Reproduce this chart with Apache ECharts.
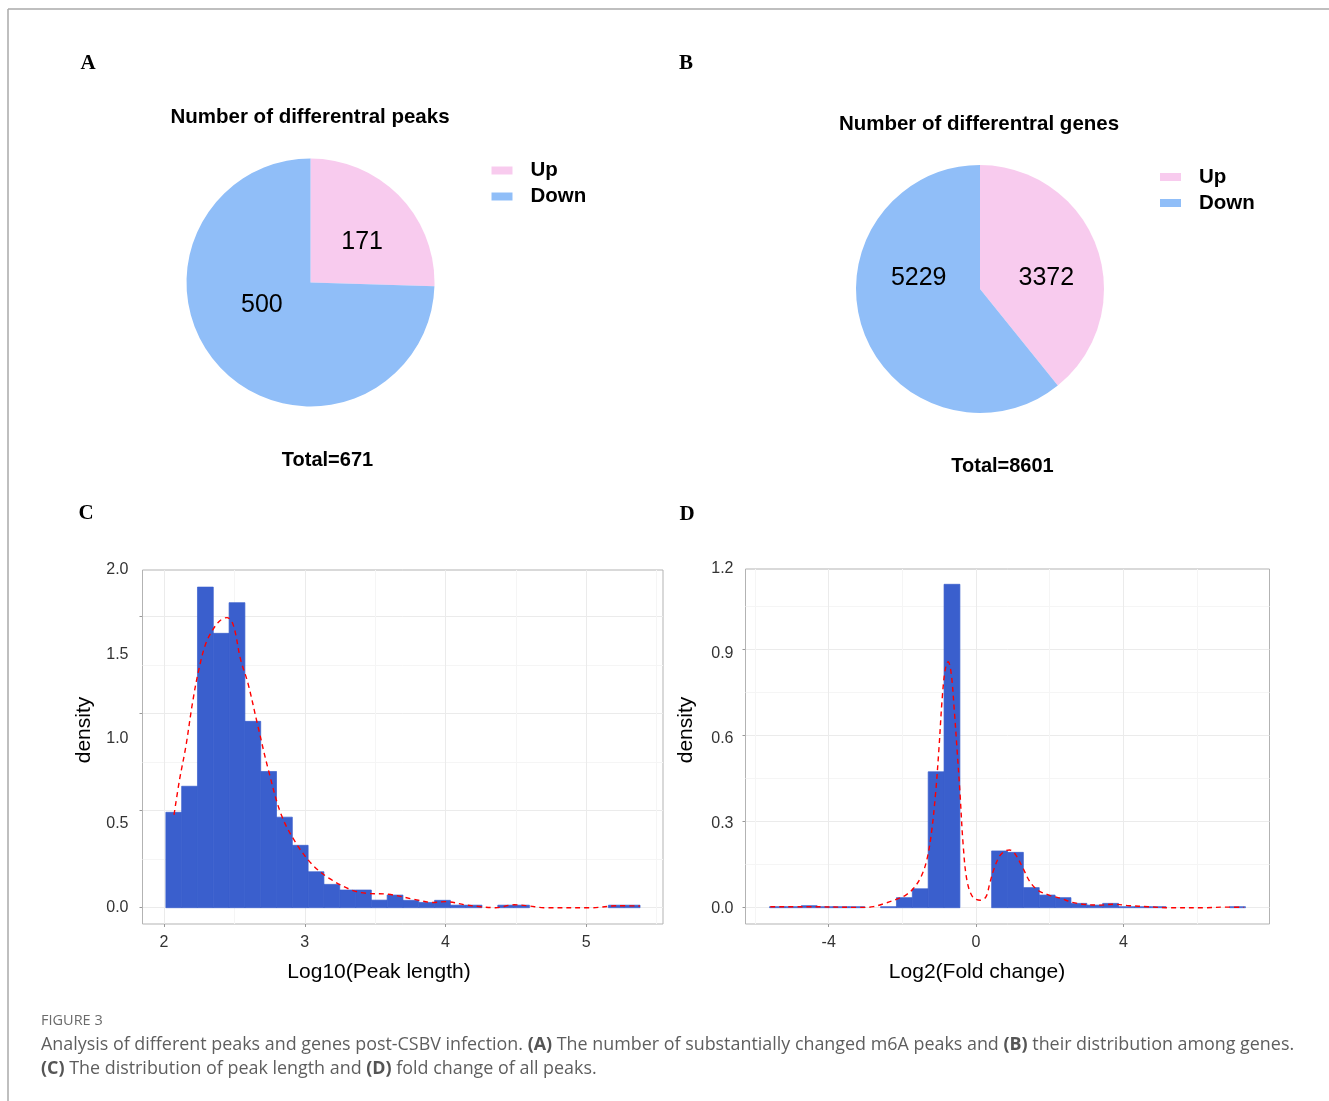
<!DOCTYPE html>
<html><head><meta charset="utf-8">
<script src="https://cdn.jsdelivr.net/npm/echarts@6/dist/echarts.min.js"></script>
<style>html,body{margin:0;padding:0;background:#fff}#c{width:1329px;height:1101px}</style>
</head><body><div id="c"></div>
<script>
// ================= DATA =================
const pieCategories = ['Up', 'Down'];
const peakCounts = [171, 500];
const geneCounts = [3372, 5229];

// C: histogram of log10(peak length), 30 bins (density)
const peakLenBinStart = 2.013;
const peakLenBinWidth = 0.1123;
const peakLenDensity = [0.491, 0.625, 1.650, 1.412, 1.570, 0.959, 0.701, 0.466, 0.321, 0.185,
  0.120, 0.091, 0.091, 0.039, 0.065, 0.038, 0.027, 0.038, 0.013, 0.013,
  0, 0.013, 0.013, 0, 0, 0, 0, 0, 0.013, 0.013];
const peakLenCurveX = [2.071, 2.110, 2.155, 2.202, 2.242, 2.294, 2.347, 2.399, 2.447, 2.491,
  2.544, 2.596, 2.662, 2.741, 2.833, 2.938, 3.056, 3.174, 3.332, 3.437, 3.594, 3.778, 3.910,
  4.002, 4.146, 4.251, 4.356, 4.487, 4.593, 4.698, 5.039, 5.223, 5.381];
const peakLenCurveY = [0.478, 0.658, 0.830, 1.053, 1.208, 1.354, 1.431, 1.478, 1.493, 1.457,
  1.277, 1.156, 0.950, 0.710, 0.478, 0.332, 0.220, 0.151, 0.091, 0.074, 0.069, 0.043, 0.027,
  0.031, 0.014, 0.005, 0.000, 0.015, 0.009, 0.000, 0.000, 0.010, 0.009];

// D: histogram of log2(fold change), 30 bins (density)
const foldBinStart = -5.606;
const foldBinWidth = 0.4307;
const foldDensity = [0.0035, 0.0035, 0.007, 0.0035, 0.0035, 0.0035, 0, 0.0035, 0.035, 0.066,
  0.474, 1.128, 0, 0, 0.198, 0.193, 0.070, 0.044, 0.035, 0.015,
  0.009, 0.015, 0.0035, 0.0035, 0.0035, 0, 0, 0, 0, 0.0035];
const foldCurveX = [-5.585, -4.653, -3.10, -2.79, -2.477, -2.166, -1.907, -1.70, -1.492, -1.337,
  -1.212, -1.098, -1.005, -0.922, -0.839, -0.756, -0.674, -0.591, -0.508, -0.435, -0.352,
  -0.249, -0.093, 0.114, 0.269, 0.373, 0.477, 0.632, 0.788, 0.912, 1.047, 1.254, 1.461,
  1.668, 1.979, 2.290, 2.601, 2.912, 3.326, 3.741, 4.155, 4.674, 5.19, 6.228, 6.746, 7.264];
const foldCurveY = [0.0035, 0.0035, 0.001, 0.0035, 0.015, 0.029, 0.044, 0.067, 0.108, 0.166,
  0.259, 0.399, 0.558, 0.724, 0.829, 0.858, 0.817, 0.690, 0.538, 0.399, 0.224,
  0.097, 0.038, 0.026, 0.038, 0.085, 0.131, 0.178, 0.198, 0.201, 0.190, 0.143, 0.091,
  0.062, 0.044, 0.033, 0.019, 0.012, 0.009, 0.012, 0.007, 0.0035, 0, 0, 0.002, 0.001];

// tick values / labels
const cXTicks = [2, 3, 4, 5];
const cXMinor = [2.5, 3.5, 4.5, 5.5];
const cYTicks = [0, 0.5, 1, 1.5];
const cYMinor = [0.25, 0.75, 1.25];
const cYLabels = [0, 0.5, 1.0, 1.5, 2.0];
const dXTicks = [-4, 0, 4];
const dXMinor = [-6, -2, 2, 6];
const dYTicks = [0, 0.3, 0.6, 0.9];
const dYMinor = [0.15, 0.45, 0.75, 1.05];
const dYLabels = [0, 0.3, 0.6, 0.9, 1.2];

// ================= CHART =================
const SANS = '"Liberation Sans", Arial, sans-serif';
const SERIF = '"Liberation Serif", "Times New Roman", serif';
const CAP = '"Open Sans", sans-serif';
const PINK = '#F8CBEE', BLUE = '#90BEF8', BAR = '#3A5FCD';

const chart = echarts.init(document.getElementById('c'), null, {renderer: 'canvas'});

function baseAxis(o) {
  return Object.assign({
    type: 'value', axisLine: {show: false, onZero: false}, axisTick: {show: false},
    axisLabel: {show: false}, splitLine: {show: false}
  }, o);
}
function majorX(grid, min, max, ticks) {
  return baseAxis({gridIndex: grid, min, max, position: 'bottom',
    axisTick: {show: true, length: 3, lineStyle: {color: '#999'}, customValues: ticks},
    axisLabel: {show: true, customValues: ticks, fontSize: 16, color: '#333', margin: 11, fontFamily: SANS},
    splitLine: {show: true, lineStyle: {color: '#ebebeb', width: 1}}});
}
function minorX(grid, min, max, ticks) {
  return baseAxis({gridIndex: grid, min, max, position: 'bottom',
    axisTick: {show: false, customValues: ticks},
    axisLabel: {show: false, customValues: ticks},
    splitLine: {show: true, lineStyle: {color: '#f5f5f5', width: 1}}});
}
function majorY(grid, min, max, ticks) {
  return baseAxis({gridIndex: grid, min, max, position: 'left',
    axisTick: {show: true, length: 3, lineStyle: {color: '#999'}, customValues: ticks},
    axisLabel: {show: false, customValues: ticks},
    splitLine: {show: true, lineStyle: {color: '#ebebeb', width: 1}}});
}
function minorY(grid, min, max, ticks) {
  return baseAxis({gridIndex: grid, min, max, position: 'left',
    axisTick: {show: false, customValues: ticks},
    axisLabel: {show: false, customValues: ticks},
    splitLine: {show: true, lineStyle: {color: '#f5f5f5', width: 1}}});
}
function labelY(grid, min, max, labels, margin) {
  return baseAxis({gridIndex: grid, min, max, position: 'left',
    axisTick: {show: false, customValues: labels},
    axisLabel: {show: true, customValues: labels, fontSize: 16, color: '#333', margin,
      fontFamily: SANS, formatter: v => Number(v).toFixed(1)}});
}

function histSeries(xi, yi, start, width, dens) {
  const data = dens.map((d, i) => [start + i * width, start + (i + 1) * width, d]);
  return {
    type: 'custom', xAxisIndex: xi, yAxisIndex: yi, data, silent: true, z: 2,
    encode: {x: [0, 1], y: 2},
    renderItem(params, api) {
      const h = api.value(2);
      if (!h) return null;
      const p0 = api.coord([api.value(0), h]);
      const p1 = api.coord([api.value(1), 0]);
      return {type: 'rect', shape: {x: p0[0], y: p0[1], width: p1[0] - p0[0], height: p1[1] - p0[1]},
        style: {fill: BAR, stroke: BAR, lineWidth: 0.7}};
    }
  };
}
function curveSeries(xi, yi, xs, ys) {
  return {
    type: 'line', xAxisIndex: xi, yAxisIndex: yi, data: xs.map((x, i) => [x, ys[i]]),
    smooth: 0.35, showSymbol: false, silent: true, z: 3,
    lineStyle: {color: '#FF0000', width: 1.4, type: [5, 4]}
  };
}
// label nudges (layout only) so the in-slice numbers sit where the reference puts them
function pieSeries(center, counts, nudges) {
  return {
    type: 'pie', center, radius: 124, startAngle: 90, clockwise: true, silent: true,
    data: pieCategories.map((n, i) => ({name: n, value: counts[i], itemStyle: {color: i === 0 ? PINK : BLUE}})),
    label: {show: true, position: 'inside', formatter: '{c}', fontSize: 25, color: '#000', fontFamily: SANS},
    labelLayout: p => ({dx: nudges[p.dataIndex][0], dy: nudges[p.dataIndex][1]}),
    labelLine: {show: false}, emphasis: {disabled: true}
  };
}
function legendAt(left, top) {
  return {
    data: pieCategories, left, top, orient: 'vertical', icon: 'rect', itemWidth: 21, itemHeight: 8,
    itemGap: 5, selectedMode: false, padding: 0,
    textStyle: {fontSize: 20.5, fontWeight: 'bold', color: '#000', fontFamily: SANS, padding: [0, 0, 0, 13]}
  };
}
function txt(x, y, text, font, extra) {
  return Object.assign({type: 'text', x, y, silent: true,
    style: {text, font, fill: '#000', align: 'center', verticalAlign: 'middle'}}, extra || {});
}
const capRich = {b: {fontWeight: 'bold', fontSize: 17.9, fontFamily: CAP, fill: '#555'}};

const option = {
  animation: false,
  backgroundColor: '#fff',
  grid: [
    {left: 142.5, top: 570, width: 520.5, height: 354, show: true, borderColor: '#b3b3b3', borderWidth: 1},
    {left: 745.5, top: 569, width: 524, height: 355, show: true, borderColor: '#b3b3b3', borderWidth: 1}
  ],
  xAxis: [
    majorX(0, 1.847, 5.545, cXTicks),
    minorX(0, 1.847, 5.545, cXMinor),
    majorX(1, -6.259, 7.968, dXTicks),
    minorX(1, -6.259, 7.968, dXMinor)
  ],
  yAxis: [
    majorY(0, -0.0839, 1.738, cYTicks),
    minorY(0, -0.0839, 1.738, cYMinor),
    labelY(0, -0.0947, 2.0, cYLabels, 14),
    majorY(1, -0.0569, 1.1814, dYTicks),
    minorY(1, -0.0569, 1.1814, dYMinor),
    labelY(1, -0.0555, 1.2, dYLabels, 12)
  ],
  legend: [legendAt(491.5, 160), legendAt(1160, 166.5)],
  series: [
    pieSeries([310.5, 282.5], peakCounts, [[5, 5], [-2, -23]]),
    pieSeries([980, 289], geneCounts, [[5, 11], [0, -33]]),
    histSeries(0, 0, peakLenBinStart, peakLenBinWidth, peakLenDensity),
    curveSeries(0, 0, peakLenCurveX, peakLenCurveY),
    histSeries(2, 3, foldBinStart, foldBinWidth, foldDensity),
    curveSeries(2, 3, foldCurveX, foldCurveY)
  ],
  graphic: [
    {type: 'line', silent: true, shape: {x1: 8, y1: 9, x2: 1329, y2: 9}, style: {stroke: '#aaaaaa', lineWidth: 1.5}},
    {type: 'line', silent: true, shape: {x1: 8, y1: 9, x2: 8, y2: 1101}, style: {stroke: '#aaaaaa', lineWidth: 1.5}},
    txt(88, 64, 'A', 'bold 21px ' + SERIF),
    txt(686, 64, 'B', 'bold 21px ' + SERIF),
    txt(86, 514, 'C', 'bold 21px ' + SERIF),
    txt(687, 515, 'D', 'bold 21px ' + SERIF),
    txt(310, 117, 'Number of differentral peaks', 'bold 20.5px ' + SANS),
    txt(979, 124, 'Number of differentral genes', 'bold 20.5px ' + SANS),
    txt(327.5, 460, 'Total=671', 'bold 20px ' + SANS),
    txt(1002.5, 466.5, 'Total=8601', 'bold 20px ' + SANS),
    txt(84, 730, 'density', '21px ' + SANS, {rotation: Math.PI / 2}),
    txt(686, 730, 'density', '21px ' + SANS, {rotation: Math.PI / 2}),
    txt(379, 972, 'Log10(Peak length)', '21px ' + SANS),
    txt(977, 972, 'Log2(Fold change)', '21px ' + SANS),
    {type: 'text', x: 41, y: 1021, silent: true,
      style: {text: 'FIGURE 3', font: '14.5px ' + CAP, fill: '#6b6b6b', align: 'left', verticalAlign: 'middle'}},
    {type: 'text', x: 41, y: 1045, silent: true,
      style: {text: 'Analysis of different peaks and genes post-CSBV infection. {b|(A)} The number of substantially changed m6A peaks and {b|(B)} their distribution among genes.',
        font: '17.9px ' + CAP, fill: '#5e5e5e', align: 'left', verticalAlign: 'middle', rich: capRich}},
    {type: 'text', x: 41, y: 1069, silent: true,
      style: {text: '{b|(C)} The distribution of peak length and {b|(D)} fold change of all peaks.',
        font: '17.9px ' + CAP, fill: '#5e5e5e', align: 'left', verticalAlign: 'middle', rich: capRich}}
  ]
};
chart.setOption(option);
</script></body></html>
